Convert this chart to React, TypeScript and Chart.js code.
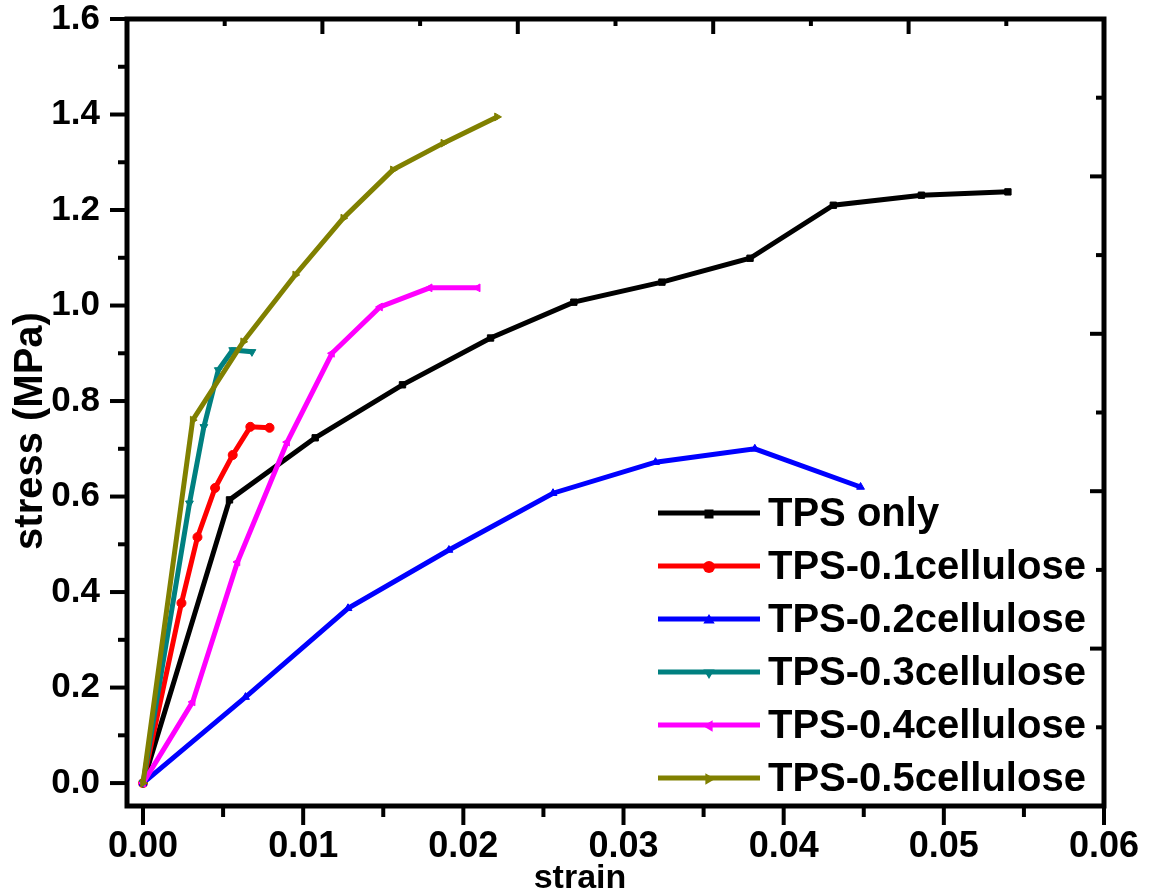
import React, { useEffect, useRef } from 'react';
import { Chart, registerables } from 'chart.js';

Chart.register(...registerables);

// ---------- data ----------
const SERIES_LABELS = [
  'TPS only',
  'TPS-0.1cellulose',
  'TPS-0.2cellulose',
  'TPS-0.3cellulose',
  'TPS-0.4cellulose',
  'TPS-0.5cellulose',
];
const SERIES_COLORS = ['#000000', '#FF0000', '#0000FF', '#008080', '#FF00FF', '#808000'];
const POINT_STYLES = ['rect', 'circle', 'triangle', 'triangle', 'triangle', 'triangle'];
const POINT_ROTATIONS = [0, 0, 0, 180, -90, 90];

const TPS_X = [0, 0.0054, 0.01075, 0.0162, 0.0217, 0.0269, 0.0324, 0.0379, 0.0431, 0.0486, 0.054];
const TPS_Y = [0, 0.593, 0.723, 0.834, 0.932, 1.007, 1.049, 1.099, 1.21, 1.231, 1.238];

const C01_X = [0, 0.0024, 0.0034, 0.0045, 0.0056, 0.0067, 0.0079];
const C01_Y = [0, 0.377, 0.515, 0.618, 0.687, 0.746, 0.744];

const C02_X = [0, 0.0064, 0.0128, 0.0191, 0.0256, 0.032, 0.0382, 0.0448];
const C02_Y = [0, 0.18, 0.366, 0.488, 0.607, 0.672, 0.7, 0.62];

const C03_X = [0, 0.0029, 0.0038, 0.0047, 0.0056, 0.0068];
const C03_Y = [0, 0.586, 0.746, 0.865, 0.907, 0.903];

const C04_X = [0, 0.0031, 0.0059, 0.009, 0.0118, 0.0148, 0.0179, 0.0209];
const C04_Y = [0, 0.17, 0.463, 0.714, 0.9, 0.997, 1.037, 1.037];

const C05_X = [0, 0.0031, 0.00625, 0.0095, 0.0125, 0.0156, 0.01875, 0.0221];
const C05_Y = [0, 0.76, 0.924, 1.064, 1.183, 1.284, 1.34, 1.395];

const SERIES_X = [TPS_X, C01_X, C02_X, C03_X, C04_X, C05_X];
const SERIES_Y = [TPS_Y, C01_Y, C02_Y, C03_Y, C04_Y, C05_Y];

const X_TICKS = [0, 0.01, 0.02, 0.03, 0.04, 0.05, 0.06];
const X_MINOR_TICKS = [0.005, 0.015, 0.025, 0.035, 0.045, 0.055];
const Y_TICKS = [0, 0.2, 0.4, 0.6, 0.8, 1.0, 1.2, 1.4, 1.6];
const Y_MINOR_TICKS = [0.1, 0.3, 0.5, 0.7, 0.9, 1.1, 1.3, 1.5];

const X_TITLE = 'strain';
const Y_TITLE = 'stress (MPa)';

const FONT = '"Liberation Sans", Arial, Helvetica, sans-serif';

function drawMarker(ctx: CanvasRenderingContext2D, style: string, rot: number, x: number, y: number, r: number, color: string) {
  ctx.save();
  ctx.translate(x, y);
  ctx.rotate((rot * Math.PI) / 180);
  ctx.fillStyle = color;
  ctx.beginPath();
  if (style === 'circle') {
    ctx.arc(0, 0, r, 0, Math.PI * 2);
  } else if (style === 'rect') {
    ctx.rect(-r * 0.75, -r * 0.75, r * 1.5, r * 1.5);
  } else {
    ctx.moveTo(0, -r);
    ctx.lineTo(r * 0.95, r * 0.6);
    ctx.lineTo(-r * 0.95, r * 0.6);
    ctx.closePath();
  }
  ctx.fill();
  ctx.restore();
}

const framePlugin = {
  id: 'originFrame',
  afterDatasetsDraw(chart: any) {
    const { ctx, chartArea } = chart;
    const { left, right, top, bottom } = chartArea;
    const xs = chart.scales.x;
    const ys = chart.scales.y;
    ctx.save();
    ctx.strokeStyle = '#000';
    ctx.lineCap = 'butt';
    ctx.lineWidth = 4;
    const line = (x1: number, y1: number, x2: number, y2: number) => {
      ctx.beginPath();
      ctx.moveTo(x1, y1);
      ctx.lineTo(x2, y2);
      ctx.stroke();
    };
    X_TICKS.forEach((v) => {
      const p = xs.getPixelForValue(v);
      line(p, bottom, p, bottom + 19);
    });
    X_MINOR_TICKS.forEach((v) => {
      const p = xs.getPixelForValue(v);
      line(p, bottom, p, bottom + 11);
    });
    Y_TICKS.forEach((v) => {
      const p = ys.getPixelForValue(v);
      line(left, p, left - 17, p);
    });
    Y_MINOR_TICKS.forEach((v) => {
      const p = ys.getPixelForValue(v);
      line(left, p, left - 9, p);
    });
    // mirrored top / right axes: 10 equal divisions, major on even
    for (let i = 1; i < 10; i++) {
      const px = left + ((right - left) * i) / 10;
      line(px, top, px, top + (i % 2 === 0 ? 15 : 7));
      const py = bottom - ((bottom - top) * i) / 10;
      line(right, py, right - (i % 2 === 0 ? 14 : 8), py);
    }
    // frame
    ctx.lineWidth = 5;
    ctx.strokeRect(left, top, right - left, bottom - top);

    // axis titles
    ctx.fillStyle = '#000';
    ctx.font = `bold 34px ${FONT}`;
    ctx.textAlign = 'center';
    ctx.textBaseline = 'alphabetic';
    ctx.fillText(X_TITLE, 580, 888);
    ctx.save();
    ctx.translate(31, 431);
    ctx.rotate(-Math.PI / 2);
    ctx.font = `bold 40px ${FONT}`;
    ctx.textBaseline = 'middle';
    ctx.fillText(Y_TITLE, 0, 0);
    ctx.restore();

    // legend
    const lx = 658;
    const lineLen = 102;
    const y0 = 513;
    const dy = 53;
    ctx.font = `bold 40px ${FONT}`;
    ctx.textAlign = 'left';
    ctx.textBaseline = 'middle';
    SERIES_LABELS.forEach((label, i) => {
      const y = y0 + dy * i;
      ctx.strokeStyle = SERIES_COLORS[i];
      ctx.lineWidth = 5;
      line(lx, y, lx + lineLen, y);
      drawMarker(ctx, POINT_STYLES[i], POINT_ROTATIONS[i], lx + lineLen / 2, y + 1, 6, SERIES_COLORS[i]);
      ctx.fillStyle = '#000';
      ctx.fillText(label, lx + lineLen + 8, y + 2);
    });
    ctx.restore();
  },
};

export default function App() {
  const canvasRef = useRef<HTMLCanvasElement | null>(null);

  useEffect(() => {
    if (!canvasRef.current) return;
    Chart.defaults.font.family = FONT;
    const datasets = SERIES_LABELS.map((label, i) => ({
      label,
      data: SERIES_X[i].map((x, j) => ({ x, y: SERIES_Y[i][j] })),
      borderColor: SERIES_COLORS[i],
      backgroundColor: SERIES_COLORS[i],
      pointBackgroundColor: SERIES_COLORS[i],
      pointBorderColor: SERIES_COLORS[i],
      pointStyle: POINT_STYLES[i],
      rotation: POINT_ROTATIONS[i],
      pointRadius: 4.5,
      pointBorderWidth: 1,
      borderWidth: 5,
      tension: 0,
      fill: false,
      order: SERIES_LABELS.length - 1 - i,
    }));

    const chart = new Chart(canvasRef.current, {
      type: 'line',
      data: { datasets },
      options: {
        animation: false,
        responsive: false,
        devicePixelRatio: 1,
        layout: { padding: { top: 19, right: 45, left: 0, bottom: 0 } },
        plugins: {
          legend: { display: false },
          tooltip: { enabled: false },
        },
        scales: {
          x: {
            type: 'linear',
            min: -0.001,
            max: 0.06,
            grid: { display: false, drawTicks: false },
            border: { display: false },
            afterBuildTicks: (s: any) => {
              s.ticks = X_TICKS.map((v) => ({ value: v }));
            },
            afterFit: (s: any) => {
              s.height = 87;
              s.paddingLeft = 0;
              s.paddingRight = 0;
            },
            ticks: {
              autoSkip: false,
              maxRotation: 0,
              padding: 19,
              color: '#000',
              font: { size: 36, weight: 'bold' },
              callback: (v: any) => Number(v).toFixed(2),
            },
          },
          y: {
            type: 'linear',
            min: -0.048,
            max: 1.6,
            grid: { display: false, drawTicks: false },
            border: { display: false },
            afterBuildTicks: (s: any) => {
              s.ticks = Y_TICKS.map((v) => ({ value: v }));
            },
            afterFit: (s: any) => {
              s.width = 127;
              s.paddingTop = 0;
              s.paddingBottom = 0;
            },
            ticks: {
              autoSkip: false,
              padding: 27,
              color: '#000',
              font: { size: 35, weight: 'bold' },
              callback: (v: any) => Number(v).toFixed(1),
            },
          },
        },
      },
      plugins: [framePlugin],
    } as any);
    return () => chart.destroy();
  }, []);

  return (
    <div style={{ position: 'fixed', left: 0, top: 0, width: 1149, height: 893, background: '#fff' }}>
      <canvas ref={canvasRef} width={1149} height={893} style={{ display: 'block' }} />
    </div>
  );
}
